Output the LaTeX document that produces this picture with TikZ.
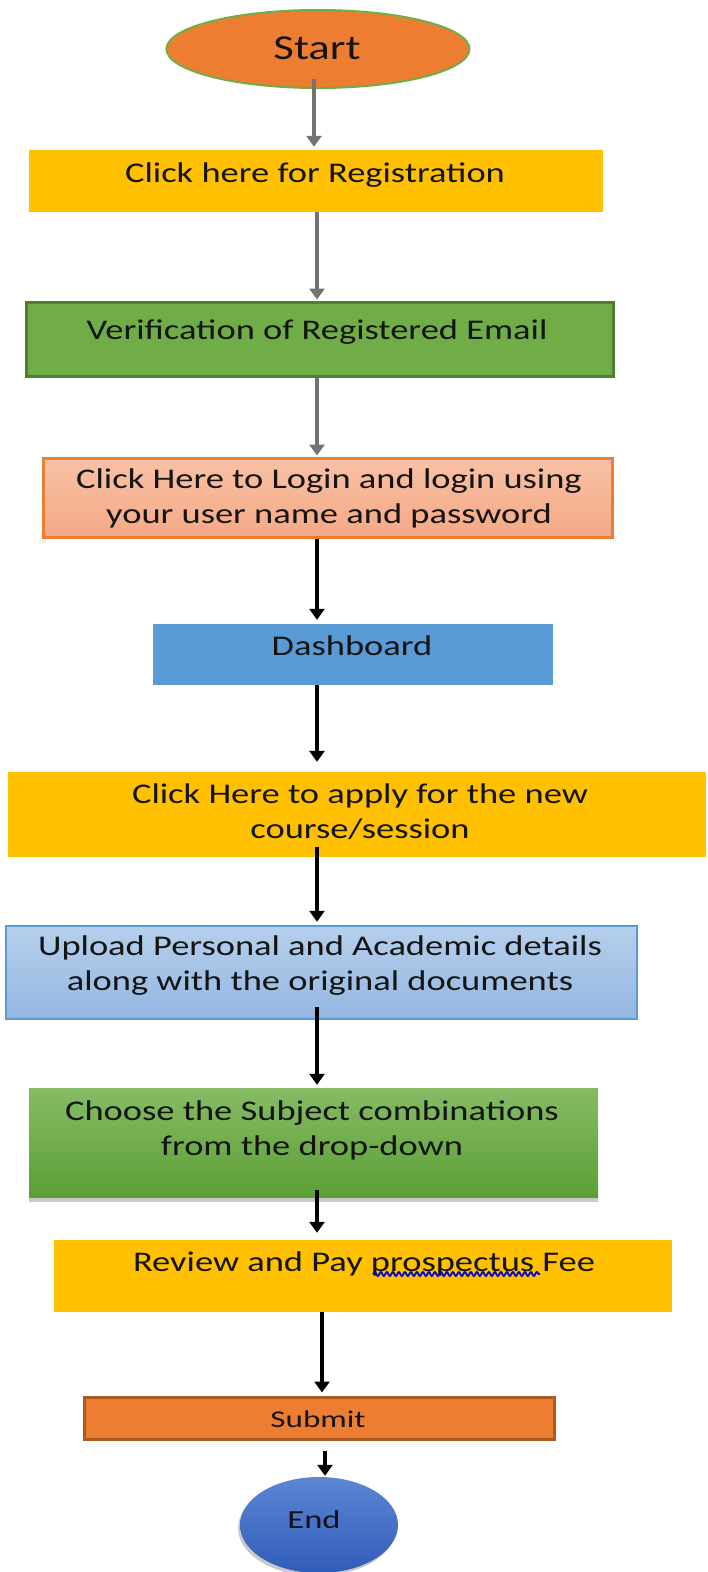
\documentclass[tikz,border=0pt]{standalone}
\usepackage{fontspec}
\setmainfont{Carlito}
\usepackage{graphicx}
\usetikzlibrary{arrows.meta,shadows,decorations.pathmorphing,calc,shapes.geometric}
\definecolor{oran}{HTML}{ED7D31}
\definecolor{orand}{HTML}{AE5A21}
\definecolor{gold}{HTML}{FFC000}
\definecolor{grn}{HTML}{70AD47}
\definecolor{grnd}{HTML}{507E32}
\definecolor{blu}{HTML}{5B9BD5}
\definecolor{salT}{HTML}{F8C1A6}
\definecolor{salB}{HTML}{F4A984}
\definecolor{lbT}{HTML}{B6CFEC}
\definecolor{lbB}{HTML}{93B6E1}
\definecolor{gT}{HTML}{86BC64}
\definecolor{gB}{HTML}{5C9E36}
\definecolor{eT}{HTML}{5C86D5}
\definecolor{eB}{HTML}{2F5CB9}
\definecolor{txt}{HTML}{141414}
\newcommand\ffz{\fontsize{28.5}{35}\selectfont}
\newcommand\stx[1]{\scalebox{1.28}[1]{\begin{tabular}{@{}c@{}}#1\end{tabular}}}
\tikzset{
  boxs/.style={rectangle, inner sep=0pt},
  lbl/.style={inner sep=0pt, text=txt, font=\ffz},
  arr/.style={line width=3.4pt, -{Triangle[width=15pt,length=11pt]}},
}
\begin{document}
\begin{tikzpicture}[x=1pt,y=-1pt]
\useasboundingbox (0,0) rectangle (708,1572);
\fill[white] (0,0) rectangle (708,1572);
\clip (0,0) rectangle (708,1572);
\coordinate (ax) at (317,0);
\coordinate (ax1) at (314,0);
\coordinate (ax2) at (322,0);
\coordinate (ax3) at (325,0);

% Start
\node[ellipse, fill=oran, draw=grn, line width=2pt, minimum width=303pt, minimum height=78pt, inner sep=0pt] (start) at (318,49) {};
\node[lbl, font=\fontsize{35}{40}\selectfont] (tstart) at (317,51) {\stx{Start}};

% Box 1
\node[boxs, fill=gold, minimum width=574pt, minimum height=62pt] (b1) at (316,181) {};
\node[lbl] (t1) at (315,175) {\stx{Click here for Registration}};

% Box 2
\node[boxs, fill=grn, draw=grnd, line width=3pt, minimum width=587pt, minimum height=74pt] (b2) at (319.5,339) {};
\node[lbl] (t2) at (317,332) {\stx{Verification of Registered Email}};

% Box 3
\node[boxs, top color=salT, bottom color=salB, draw=oran, line width=3pt, minimum width=569pt, minimum height=79pt] (b3) at (327.5,497.5) {};
\node[lbl] (t3) at (329,499) {\stx{Click Here to Login and login using\\your user name and password}};

% Box 4
\node[boxs, fill=blu, minimum width=400pt, minimum height=61pt] (b4) at (353,654.5) {};
\node[lbl] (t4) at (352,648) {\stx{Dashboard}};

% Box 5
\node[boxs, fill=gold, minimum width=698pt, minimum height=85pt] (b5) at (357,814.5) {};
\node[lbl] (t5) at (360,814) {\stx{Click Here to apply for the new\\course/session}};

% Box 6
\node[boxs, top color=lbT, bottom color=lbB, draw=blu, line width=2.5pt, minimum width=631pt, minimum height=93pt] (b6) at (321.5,972.5) {};
\node[lbl] (t6) at (320,966) {\stx{Upload Personal and Academic details\\along with the original documents}};

% Box 7
\node[boxs, top color=gT, bottom color=gB, minimum width=569pt, minimum height=109pt,
  drop shadow={shadow xshift=0pt, shadow yshift=-5pt, opacity=0.35, fill=black!60}] (b7) at (313.5,1142.5) {};
\node[lbl] (t7) at (312,1131) {\stx{Choose the Subject combinations\\from the drop-down}};

% Box 8
\node[boxs, fill=gold, minimum width=618pt, minimum height=72pt] (b8) at (363,1276) {};
\node[lbl] (t8) at (364,1264) {\stx{Review and Pay prospectus Fee}};
\draw[blue!85!black, line width=1.8pt, decorate, decoration={snake, amplitude=2pt, segment length=6pt}] (373,1274) -- (540,1274);

% Box 9
\node[boxs, fill=oran, draw=orand, line width=3pt, minimum width=470pt, minimum height=42pt] (b9) at (319,1418) {};
\node[lbl, font=\fontsize{24}{30}\selectfont] (t9) at (318,1419) {\scalebox{1.38}[1]{Submit}};

% End
\node[ellipse, top color=eT, bottom color=eB, minimum width=158pt, minimum height=96pt, inner sep=0pt,
  drop shadow={shadow xshift=-2pt, shadow yshift=-3pt, opacity=0.35, fill=black!60}] (end) at (319,1525) {};
\node[lbl, font=\fontsize{26}{32}\selectfont] (tend) at (314,1520) {\scalebox{1.33}[1]{End}};

% Arrows
\draw[arr, black!55, shorten <=-10pt, shorten >=3pt] (start.south -| ax1) -- (b1.north -| ax1);
\draw[arr, black!55, shorten >=1pt] (b1.south -| ax) -- (b2.north -| ax);
\draw[arr, black!55, shorten >=1pt] (b2.south -| ax) -- (b3.north -| ax);
\draw[arr, black, shorten >=4pt] (b3.south -| ax) -- (b4.north -| ax);
\draw[arr, black, shorten >=10pt] (b4.south -| ax) -- (b5.north -| ax);
\draw[arr, black, shorten <=-10pt, shorten >=3pt] (b5.south -| ax) -- (b6.north -| ax);
\draw[arr, black, shorten <=-13pt, shorten >=3pt] (b6.south -| ax) -- (b7.north -| ax);
\draw[arr, black, shorten <=-7pt, shorten >=7pt] (b7.south -| ax) -- (b8.north -| ax);
\draw[arr, black, shorten >=3pt] (b8.south -| ax2) -- (b9.north -| ax2);
\draw[arr, black, shorten <=10pt, shorten >=1pt] (b9.south -| ax3) -- (end.north -| ax3);
\end{tikzpicture}
\end{document}
